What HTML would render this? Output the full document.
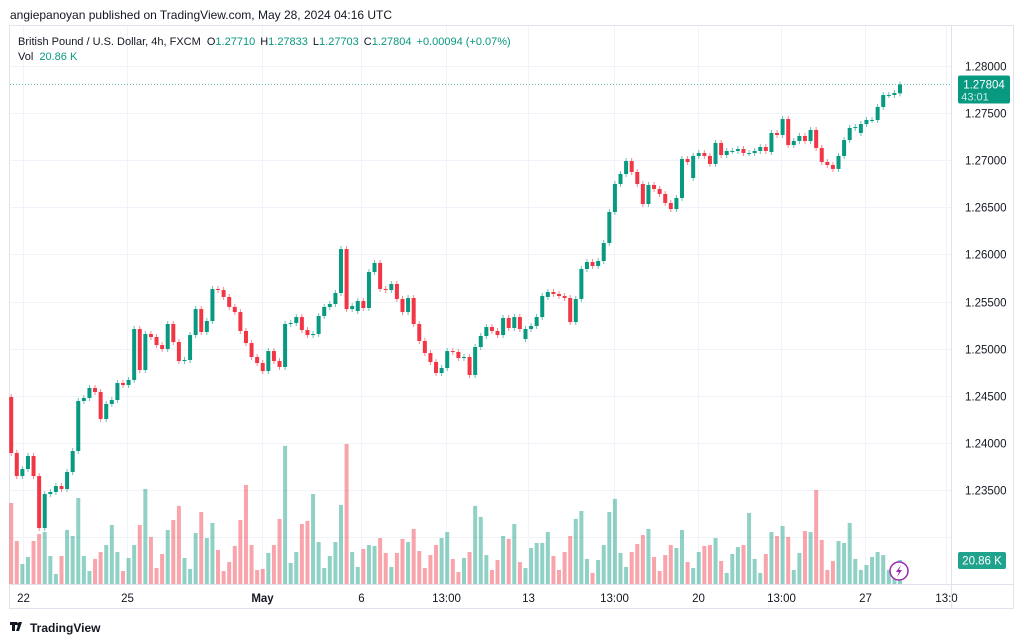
<!DOCTYPE html>
<html><head><meta charset="utf-8"><style>
body{margin:0;background:#fff;width:1024px;height:643px;overflow:hidden;font-family:"Liberation Sans",sans-serif}
svg{position:absolute;left:0;top:0}
</style></head><body>
<svg id="chart" width="1024" height="643" xmlns="http://www.w3.org/2000/svg">
<rect x="0" y="0" width="1024" height="643" fill="#fff"/>
<text x="10" y="19" font-size="12" fill="#131722">angiepanoyan published on TradingView.com, May 28, 2024 04:16 UTC</text>
<rect x="9.5" y="25.5" width="1004" height="583" fill="none" stroke="#e0e3eb"/>
<g id="grid"></g>
<g id="vol"></g>
<g id="candles"></g>
<g id="axes"></g>
<text x="18" y="45" font-size="11" fill="#131722">British Pound / U.S. Dollar, 4h, FXCM <tspan dx="3">O</tspan><tspan fill="#089981">1.27710</tspan><tspan dx="5">H</tspan><tspan fill="#089981">1.27833</tspan><tspan dx="5">L</tspan><tspan fill="#089981">1.27703</tspan><tspan dx="5">C</tspan><tspan fill="#089981">1.27804</tspan><tspan dx="5" fill="#089981">+0.00094 (+0.07%)</tspan></text>
<text x="18" y="60" font-size="11" fill="#131722">Vol <tspan dx="3" fill="#089981">20.86 K</tspan></text>
<g>
<path d="M10 622h7v3h-2v6h-3v-6h-2z M19 622h3l-3 9h-3z" fill="#131722"/>
<circle cx="18" cy="624" r="1.5" fill="#131722"/>
<text x="30" y="632" font-size="12" font-weight="bold" fill="#131722">TradingView</text>
</g>
<g><circle cx="899" cy="571" r="9" fill="#fff" stroke="#9c27b0" stroke-width="1.5"/><path d="M901 565l-5 7h3l-2 5 5-7h-3z" fill="#9c27b0"/></g>
</svg>
<script>
const closes=[1.23892,1.23647,1.23722,1.23860,1.23647,1.23095,1.23456,1.23478,1.23541,1.23509,1.23690,1.23913,1.24444,1.24476,1.24582,1.24539,1.24253,1.24412,1.24454,1.24635,1.24614,1.24667,1.25208,1.24773,1.25155,1.25123,1.25038,1.24996,1.25261,1.25070,1.24868,1.24879,1.25144,1.25420,1.25176,1.25293,1.25633,1.25622,1.25548,1.25442,1.25388,1.25187,1.25059,1.24911,1.24847,1.24762,1.24974,1.24868,1.24805,1.25261,1.25272,1.25335,1.25197,1.25144,1.25155,1.25346,1.25442,1.25473,1.25590,1.26057,1.25420,1.25452,1.25505,1.25431,1.25813,1.25909,1.25633,1.25622,1.25686,1.25527,1.25388,1.25537,1.25261,1.25081,1.24953,1.24858,1.24741,1.24794,1.24974,1.24964,1.24900,1.24911,1.24720,1.25017,1.25134,1.25229,1.25187,1.25144,1.25325,1.25219,1.25335,1.25208,1.25208,1.25240,1.25335,1.25558,1.25601,1.25580,1.25558,1.25537,1.25282,1.25527,1.25845,1.25919,1.25877,1.25930,1.26121,1.26450,1.26747,1.26853,1.26991,1.26875,1.26747,1.26535,1.26737,1.26694,1.26641,1.26546,1.26482,1.26599,1.27013,1.26981,1.27045,1.27076,1.27045,1.26960,1.27183,1.27055,1.27098,1.27098,1.27119,1.27076,1.27076,1.27098,1.27140,1.27098,1.27289,1.27268,1.27437,1.27161,1.27204,1.27257,1.27204,1.27321,1.27130,1.26981,1.26949,1.26907,1.27045,1.27214,1.27342,1.27352,1.27384,1.27427,1.27427,1.27565,1.27692,1.27692,1.27713,1.27804];
const gapOpenIdx=[0,62,92,96,122,136,152,159];
const gapOpenVal=[1.24486,1.25399,1.25102,1.25548,1.26811,1.27087,1.27289,1.27710];
const volumes=[70.5,37.4,17.4,23.5,37.4,43.5,45.2,24.4,8.7,24.4,47.0,41.8,74.8,24.4,11.3,21.8,27.8,33.9,51.3,27.8,11.3,22.6,33.9,51.3,82.7,40.9,13.9,26.1,47.0,55.7,67.9,22.6,13.1,44.4,62.6,40.0,53.1,29.6,11.3,19.1,33.1,55.7,86.1,33.9,12.2,13.1,27.0,33.9,56.6,120.1,18.3,27.8,52.2,54.8,78.3,36.5,13.9,24.4,36.5,68.7,121.8,27.8,14.8,30.5,33.9,33.1,40.0,27.0,14.8,27.0,39.2,36.5,47.9,28.7,13.9,25.2,33.9,40.0,45.2,21.8,10.4,22.6,27.8,67.9,58.3,25.2,12.2,20.9,41.8,39.2,52.2,19.1,13.9,31.3,35.7,35.7,45.2,24.4,12.2,27.8,41.8,56.6,63.5,21.8,9.6,20.9,33.9,62.6,74.0,27.0,14.8,27.8,34.8,42.6,47.9,23.5,11.3,25.2,33.9,31.3,47.0,19.1,13.9,27.8,33.1,33.9,40.0,20.0,9.6,26.1,32.2,33.9,61.8,21.8,9.6,26.1,45.2,41.8,50.5,40.9,12.2,27.0,46.1,45.2,81.8,38.3,12.2,20.0,37.4,35.7,53.1,21.8,12.2,16.5,23.5,27.8,25.2,12.2,12.2,20.86];
const priceTicks=[1.28,1.275,1.27,1.265,1.26,1.255,1.25,1.245,1.24,1.235,1.23];
const timeLabels=["22","25","May","6","13:00","13","13:00","20","13:00","27","13:0"];
const timeLabelIdx=[2.2,20.8,44.9,62.6,77.8,92.4,107.8,122.8,137.8,152.8,167.3];

const NS="http://www.w3.org/2000/svg";
const X0=900, STEP=5.59, N=closes.length;
const xOf=i=>X0-(N-1-i)*STEP;
const yOf=p=>66+(1.28-p)*9420;
const vOf=v=>584-v*1.15;
const GREEN="#089981", RED="#f23645";
function mk(tag,attrs,parent){const e=document.createElementNS(NS,tag);for(const k in attrs)e.setAttribute(k,attrs[k]);parent.appendChild(e);return e;}
const grid=document.getElementById('grid'),vol=document.getElementById('vol'),cg=document.getElementById('candles'),ax=document.getElementById('axes');
priceTicks.forEach(p=>{
  const y=Math.round(yOf(p))+0.5;
  const l=mk('line',{x1:10,x2:951,y1:y,y2:y,stroke:'#f0f3fa'},grid);
  
  
  if(p>1.2325){
    const t=mk('text',{x:965,y:y+4,'font-size':11.5,fill:'#131722'},ax);
    t.textContent=p.toFixed(5);
    
    
  }
});
timeLabels.forEach((s,k)=>{
  const x=Math.round(xOf(timeLabelIdx[k]))+0.5;
  const l=mk('line',{x1:x,x2:x,y1:26,y2:584,stroke:'#f0f3fa'},grid);
  
  
  const t=mk('text',{x:x,y:602,'font-size':11.5,fill:'#131722','text-anchor':'middle','font-weight':s==='May'?'bold':'normal'},ax);
  t.textContent=s;
  
  
});
mk('line',{x1:951.5,x2:951.5,y1:26,y2:608,stroke:'#e0e3eb'},ax);
mk('line',{x1:10,x2:1013,y1:584.5,y2:584.5,stroke:'#e0e3eb'},ax);
for(let i=0;i<N;i++){
  const gi=gapOpenIdx.indexOf(i);
  const o=gi>=0?gapOpenVal[gi]:closes[i-1];
  const c=closes[i];
  const up=c>=o, col=up?GREEN:RED;
  const x=xOf(i);
  const vh=584-vOf(volumes[i]);
  const vb=mk('rect',{x:x-2,y:vOf(volumes[i]),width:4,height:vh,fill:col,'fill-opacity':0.45},vol);
  
  
  const yt=Math.min(yOf(o),yOf(c)), yb=Math.max(yOf(o),yOf(c));
  const w=mk('line',{x1:x,x2:x,y1:yt-3,y2:yb+3,stroke:col,'stroke-opacity':0.6,'stroke-width':1},cg);
  
  
  const b=mk('rect',{x:x-2,y:yt,width:4,height:Math.max(1,yb-yt),fill:col},cg);
  
  
}
const lastY=yOf(closes[N-1]);
const dl=mk('line',{x1:10,x2:951,y1:lastY,y2:lastY,stroke:GREEN,'stroke-dasharray':'1 2','stroke-opacity':0.6},ax);


const pb=mk('rect',{x:958,y:lastY-9,width:52,height:28,rx:2,fill:GREEN},ax);


const pt=mk('text',{x:984,y:lastY+4,'font-size':11.5,fill:'#fff','text-anchor':'middle'},ax);
pt.textContent=closes[N-1].toFixed(5);


const ct=mk('text',{x:975,y:lastY+16,'font-size':11,fill:'#cfeee8','text-anchor':'middle'},ax);
ct.textContent='43:01';


const vbx=mk('rect',{x:958,y:552,width:48,height:17,rx:2,fill:GREEN,'fill-opacity':0.9},ax);


const vt=mk('text',{x:982,y:564.5,'font-size':11.5,fill:'#fff','text-anchor':'middle'},ax);
vt.textContent=volumes[N-1].toFixed(2)+' K';


</script>
</body></html>
